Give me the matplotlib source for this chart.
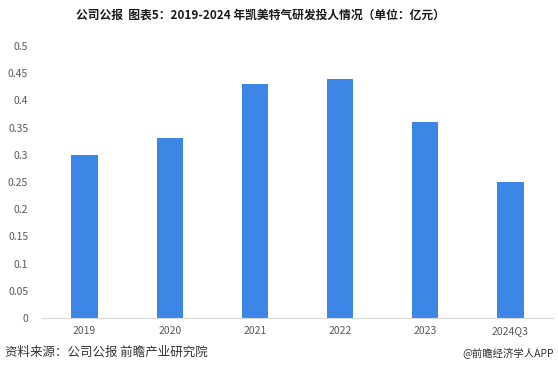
import matplotlib.pyplot as plt

plt.rcParams['font.family'] = ['Noto Sans CJK SC', 'DejaVu Sans']

categories = ['2019', '2020', '2021', '2022', '2023', '2024Q3']
values = [0.30, 0.33, 0.43, 0.44, 0.36, 0.25]
yticks = [0, 0.05, 0.1, 0.15, 0.2, 0.25, 0.3, 0.35, 0.4, 0.45, 0.5]
ytick_labels = ['0', '0.05', '0.1', '0.15', '0.2', '0.25', '0.3', '0.35', '0.4', '0.45', '0.5']

fig = plt.figure(figsize=(5.58, 3.69), dpi=100)
ax = fig.add_axes([0.0753, 0.1382, 0.9157, 0.7371])

x = range(len(categories))
ax.bar(x, values, width=0.31, color='#3C87E6', zorder=2)
ax.set_xlim(-0.5, len(categories) - 0.5)
ax.set_ylim(0, 0.5)
ax.set_xticks(list(x))
ax.set_xticklabels(categories, fontsize=7.5, color='#595959')
ax.set_yticks(yticks)
ax.set_yticklabels(ytick_labels, fontsize=7.5, color='#595959')
ax.tick_params(length=0, pad=6)
ax.tick_params(axis='y', pad=10)
for s in ['top', 'right', 'left']:
    ax.spines[s].set_visible(False)
ax.spines['bottom'].set_color('#D9D9D9')

fig.text(0.466, 0.958, '公司公报  图表5：2019-2024 年凯美特气研发投人情况（单位：亿元）',
         ha='center', va='center', fontsize=8.5, fontweight='bold', color='#1a1a1a')
fig.text(0.009, 0.045, '资料来源：公司公报 前瞻产业研究院', ha='left', va='center',
         fontsize=9, color='#333333')
fig.text(0.993, 0.045, '@前瞻经济学人APP', ha='right', va='center',
         fontsize=7.5, color='#333333')

plt.savefig('out.png', dpi=100)
